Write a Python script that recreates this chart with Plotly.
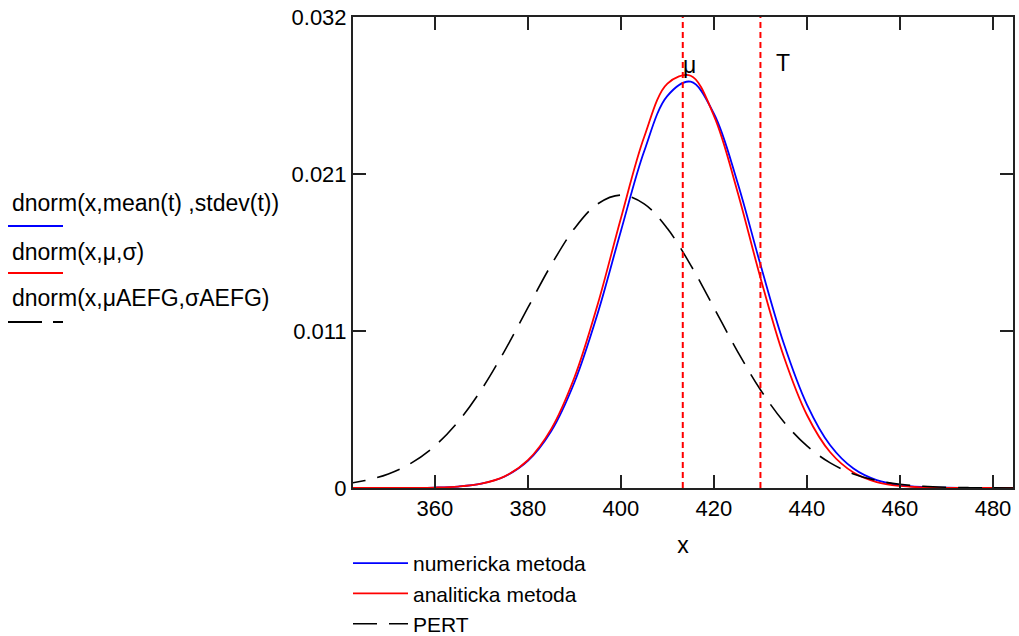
import plotly.graph_objects as go

# ---- data ----
x_vals = [340, 345, 350, 355, 360, 365, 370, 375, 380, 385, 390, 395, 400, 405, 410,
          415, 420, 425, 430, 435, 440, 445, 450, 455, 460, 465, 470, 475, 480, 485]
numericka = [0, 0.0000004, 0.0000018, 0.0000078, 0.000029, 0.000098, 0.000291, 0.000771,
             0.001814, 0.00380, 0.00708, 0.01171, 0.01725, 0.02259, 0.02631, 0.02726,
             0.02511, 0.02057, 0.01499, 0.00971, 0.00560, 0.00287, 0.001306, 0.000530,
             0.000191, 0.000061, 0.000017, 0.0000044, 0.000001, 0]
analiticka = [0, 0.0000003, 0.0000016, 0.000007, 0.000027, 0.000094, 0.000288, 0.000779,
              0.001864, 0.00395, 0.00741, 0.01231, 0.01810, 0.02355, 0.02713, 0.02766,
              0.02497, 0.01995, 0.01411, 0.00884, 0.00490, 0.00240, 0.001044, 0.000401,
              0.000137, 0.000041, 0.000011, 0.0000024, 0.0000005, 0]
pert = [0.000249, 0.000501, 0.000946, 0.001684, 0.002822, 0.004447, 0.006593, 0.009206,
        0.012095, 0.014956, 0.017406, 0.019062, 0.01965, 0.019062, 0.017406, 0.014956,
        0.012095, 0.009206, 0.006593, 0.004447, 0.002822, 0.001684, 0.000946, 0.000501,
        0.000249, 0.000117, 0.000051, 0.000021, 0.000008, 0.000003]

marker_mu = 413.3
marker_T = 430.0

x_range = [342.4, 484.3]
y_max = 0.0316
x_ticks = [360, 380, 400, 420, 440, 460, 480]
y_tickvals = [0, y_max / 3, 2 * y_max / 3, y_max]
y_ticktext = ["0", "0.011", "0.021", "0.032"]

series_names = ["numericka metoda", "analiticka metoda", "PERT"]
expr_labels = ["dnorm(x,mean(t) ,stdev(t))", "dnorm(x,\u03bc,\u03c3)", "dnorm(x,\u03bcAEFG,\u03c3AEFG)"]

BLUE = "#0000ff"
RED = "#ff0000"
BLACK = "#000000"
FONT = "Liberation Sans, Arial, sans-serif"
PERT_DASH = "24px,12px"
TXT = 23
TICK = 22

fig = go.Figure()
fig.add_trace(go.Scatter(x=x_vals, y=numericka, mode="lines", name=series_names[0],
                         line=dict(color=BLUE, width=1.8, shape="spline")))
fig.add_trace(go.Scatter(x=x_vals, y=analiticka, mode="lines", name=series_names[1],
                         line=dict(color=RED, width=1.8, shape="spline")))
fig.add_trace(go.Scatter(x=x_vals, y=pert, mode="lines", name=series_names[2],
                         line=dict(color=BLACK, width=1.6, shape="spline", dash=PERT_DASH)))

# marker lines
for xv in (marker_mu, marker_T):
    fig.add_shape(type="line", xref="x", yref="paper", x0=xv, x1=xv, y0=0, y1=1,
                  line=dict(color=RED, width=2, dash="6px,4px"))
fig.add_annotation(x=marker_mu, y=0.0283, xref="x", yref="y", text="\u03bc", showarrow=False,
                   xanchor="left", yanchor="bottom", xshift=-2, yshift=-14,
                   font=dict(family=FONT, size=TXT, color=BLACK))
fig.add_annotation(x=marker_T, y=0.0283, xref="x", yref="y", text="T", showarrow=False,
                   xanchor="left", yanchor="bottom", xshift=14, yshift=-12,
                   font=dict(family=FONT, size=TXT, color=BLACK))

# left-side expression legend (Mathcad style: label above line sample)
W, H = 660.0, 471.0
L, B = 353.0, 488.0
def px_x(px):
    return (px - L) / W
def px_y(py):
    return (B - py) / H

expr_y = [203, 252, 298]
line_y = [226, 273, 322]
colors = [BLUE, RED, BLACK]
for i in range(3):
    fig.add_annotation(x=px_x(10), y=px_y(expr_y[i]), xref="paper", yref="paper",
                       text=expr_labels[i], showarrow=False, xanchor="left", yanchor="middle",
                       font=dict(family=FONT, size=TXT, color=BLACK))
    if i < 2:
        fig.add_shape(type="line", xref="paper", yref="paper", x0=px_x(8), x1=px_x(63),
                      y0=px_y(line_y[i]), y1=px_y(line_y[i]),
                      line=dict(color=colors[i], width=2))
    else:
        fig.add_shape(type="line", xref="paper", yref="paper", x0=px_x(8), x1=px_x(42),
                      y0=px_y(line_y[i]), y1=px_y(line_y[i]), line=dict(color=BLACK, width=2))
        fig.add_shape(type="line", xref="paper", yref="paper", x0=px_x(53), x1=px_x(63),
                      y0=px_y(line_y[i]), y1=px_y(line_y[i]), line=dict(color=BLACK, width=2))

fig.update_layout(
    width=1019, height=636,
    margin=dict(l=353, r=6, t=17, b=148, autoexpand=False),
    paper_bgcolor="white", plot_bgcolor="white",
    font=dict(family=FONT, size=TXT, color=BLACK),
    showlegend=True,
    legend=dict(xref="container", yref="container", x=348 / 1019, y=1 - 543 / 636,
                xanchor="left", yanchor="top", bgcolor="rgba(0,0,0,0)",
                font=dict(family=FONT, size=21, color=BLACK), itemwidth=55,
                tracegroupgap=0),
)
fig.update_xaxes(range=x_range, tickvals=x_ticks, ticks="inside", ticklen=13, tickwidth=2,
                 tickcolor="#222", showline=True, linewidth=2, linecolor="#222", mirror="ticks",
                 showgrid=False, zeroline=False,
                 title=dict(text="x", font=dict(family=FONT, size=TXT), standoff=16),
                 tickfont=dict(family=FONT, size=TICK))
fig.update_yaxes(range=[0, y_max], tickvals=y_tickvals, ticktext=y_ticktext, ticks="inside",
                 ticklen=13, tickwidth=2, tickcolor="#222", showline=True, linewidth=2,
                 linecolor="#222", mirror="ticks", showgrid=False, zeroline=False,
                 tickfont=dict(family=FONT, size=TICK))

fig.write_html("out.html", config={"displayModeBar": False},
               post_script="document.body.style.margin='0';document.body.style.padding='0';")
